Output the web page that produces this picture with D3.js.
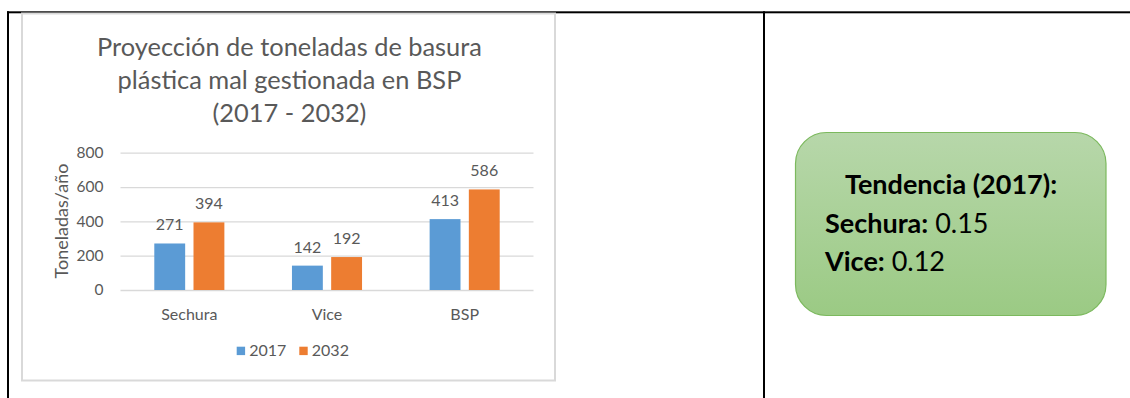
<!DOCTYPE html>
<html lang="es">
<head>
<meta charset="utf-8">
<title>Proyección de toneladas de basura plástica mal gestionada en BSP</title>
<script src="https://cdn.jsdelivr.net/npm/d3@7"></script>
<style>
  html, body { margin: 0; padding: 0; background: #ffffff; }
  svg { display: block; }
  text { font-family: Lato, "Open Sans", sans-serif; }
</style>
</head>
<body>
<svg id="page" width="1130" height="398"></svg>
<script>
// ---- data ----
const categories = ["Sechura", "Vice", "BSP"];
const years = ["2017", "2032"];
const values2017 = [271, 142, 413];
const values2032 = [394, 192, 586];
const yTicks = [0, 200, 400, 600, 800];
const titleLines = ["Proyección de toneladas de basura", "plástica mal gestionada en BSP", "(2017 - 2032)"];
const yAxisTitle = "Toneladas/año";
const trendTitle = "Tendencia (2017):";
const trendNames = ["Sechura", "Vice"];
const trendValues = ["0.15", "0.12"];

const seriesColors = { "2017": "#5B9BD5", "2032": "#ED7D31" };
const textGray = "#595959";
const gridGray = "#D9D9D9";

const svg = d3.select("#page");

// ---- table frame ----
const frame = svg.append("g").attr("fill", "#000");
frame.append("rect").attr("x", 7).attr("y", 11.3).attr("width", 1123).attr("height", 2);
frame.append("rect").attr("x", 7).attr("y", 11.3).attr("width", 2).attr("height", 398 - 11.3);
frame.append("rect").attr("x", 763).attr("y", 11.3).attr("width", 2).attr("height", 398 - 11.3);

// ---- chart box ----
const box = { x: 22, y: 13.5, w: 533, h: 367 };
svg.append("rect")
  .attr("x", box.x).attr("y", box.y).attr("width", box.w).attr("height", box.h)
  .attr("fill", "#fff").attr("stroke", gridGray).attr("stroke-width", 2);

const cx = box.x + box.w / 2;

// title
svg.append("g").selectAll("text").data(titleLines).join("text")
  .attr("x", cx + 1).attr("y", (d, i) => 56 + i * 33)
  .attr("text-anchor", "middle")
  .attr("fill", textGray).attr("font-size", 25.4)
  .text(d => d);

// plot area
const plot = { left: 120.5, right: 533.5, top: 152.7, bottom: 290 };

const y = d3.scaleLinear().domain([0, 800]).range([plot.bottom, plot.top]);
const x0 = d3.scaleBand().domain(categories).range([plot.left, plot.right]).padding(0);
const x1 = d3.scaleBand().domain(years).range([0, x0.bandwidth()])
  .paddingInner(0.2126).paddingOuter(0.862);

// gridlines + y tick labels
const yAxis = svg.append("g")
  .attr("transform", `translate(${plot.left},0)`)
  .call(d3.axisLeft(y).tickValues(yTicks).tickSize(-(plot.right - plot.left)).tickPadding(17));
yAxis.select(".domain").remove();
yAxis.selectAll(".tick line").attr("stroke", gridGray).attr("stroke-width", 1.3);
yAxis.selectAll(".tick text").attr("fill", textGray).attr("font-size", 15.5)
  .attr("font-family", "Lato, sans-serif");

// y axis title
svg.append("text")
  .attr("transform", `translate(68,221) rotate(-90)`)
  .attr("text-anchor", "middle")
  .attr("fill", textGray).attr("font-size", 18)
  .text(yAxisTitle);

// category axis
const xAxis = svg.append("g")
  .attr("transform", `translate(0,${plot.bottom})`)
  .call(d3.axisBottom(x0).tickSize(0).tickPadding(19));
xAxis.select(".domain").remove();
xAxis.selectAll(".tick text").attr("fill", textGray).attr("font-size", 16)
  .attr("font-family", "Lato, sans-serif");

// bars
const rows = categories.map((c, i) => ({
  category: c,
  values: [{ year: "2017", value: values2017[i] }, { year: "2032", value: values2032[i] }]
}));

const groups = svg.append("g").selectAll("g").data(rows).join("g")
  .attr("transform", d => `translate(${x0(d.category)},0)`);

groups.selectAll("rect").data(d => d.values).join("rect")
  .attr("x", d => x1(d.year))
  .attr("y", d => y(d.value))
  .attr("width", x1.bandwidth())
  .attr("height", d => y(0) - y(d.value))
  .attr("fill", d => seriesColors[d.year]);

groups.selectAll("text").data(d => d.values).join("text")
  .attr("x", d => x1(d.year) + x1.bandwidth() / 2)
  .attr("y", d => y(d.value) - 13)
  .attr("text-anchor", "middle")
  .attr("fill", textGray).attr("font-size", 16)
  .text(d => d.value);

// legend
const legendX = [236.7, 299.3];
const legend = svg.append("g").selectAll("g").data(years).join("g")
  .attr("transform", (d, i) => `translate(${legendX[i]},346.7)`);
legend.append("rect").attr("width", 8.4).attr("height", 8.4)
  .attr("fill", d => seriesColors[d]);
legend.append("text").attr("x", 12.5).attr("y", 9)
  .attr("fill", textGray).attr("font-size", 16)
  .text(d => d);

// ---- trend note ----
const defs = svg.append("defs");
const grad = defs.append("linearGradient").attr("id", "greenFill")
  .attr("x1", 0).attr("y1", 0).attr("x2", 0).attr("y2", 1);
grad.append("stop").attr("offset", "0%").attr("stop-color", "#B7D7AA");
grad.append("stop").attr("offset", "100%").attr("stop-color", "#9BCA84");

svg.append("rect")
  .attr("x", 795.5).attr("y", 132.5).attr("width", 310.5).attr("height", 183)
  .attr("rx", 31).attr("ry", 31)
  .attr("fill", "url(#greenFill)")
  .attr("stroke", "#7CB95E").attr("stroke-width", 1.2);

svg.append("text")
  .attr("x", 845).attr("y", 194)
  .attr("font-size", 27).attr("font-weight", 700).attr("fill", "#000")
  .text(trendTitle);

const lines = svg.append("g").selectAll("text").data(trendNames).join("text")
  .attr("x", 825).attr("y", (d, i) => 232.5 + i * 38.4)
  .attr("font-size", 27).attr("fill", "#000");
lines.append("tspan").attr("font-weight", 700).text(d => d + ":");
lines.append("tspan").attr("font-weight", 400).text((d, i) => " " + trendValues[i]);
</script>
</body>
</html>
